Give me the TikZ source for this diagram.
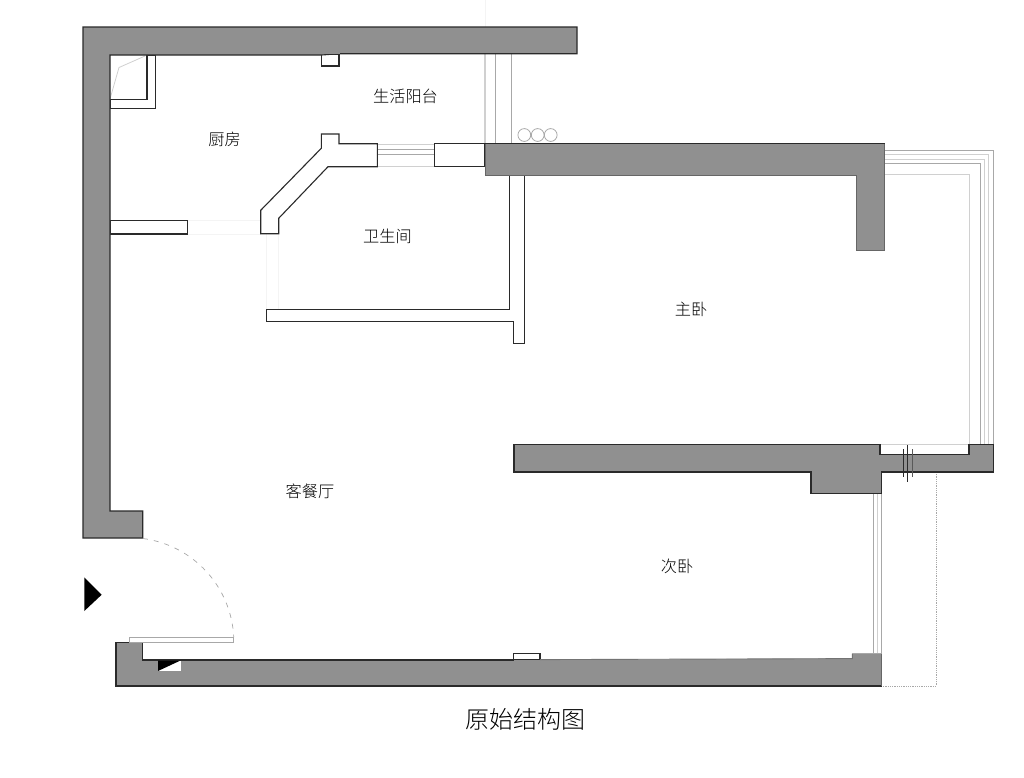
\documentclass[tikz,border=0pt]{standalone}
\usepackage{fontspec}
\newfontfamily\cjk{Noto Sans CJK SC}[UprightFont=* Light]
\definecolor{wallgray}{HTML}{909090}
\definecolor{lineA}{HTML}{D0D0D0}
\definecolor{lineB}{HTML}{A8A8A8}
\definecolor{lineC}{HTML}{F4F4F4}
\definecolor{inkline}{HTML}{2A2A2A}
\tikzset{
  wall/.style={fill=wallgray,draw=inkline,line width=1.1pt,line join=miter},
  partition/.style={fill=white,draw=inkline,line width=1.1pt,line join=miter},
  fineA/.style={draw=lineA,line width=.8pt},
  fineB/.style={draw=lineB,line width=.8pt},
  faint/.style={draw=lineC,line width=.7pt},
  roomlabel/.style={font=\cjk\fontsize{16.2}{17}\selectfont,text=black,inner sep=0pt},
  titlelabel/.style={font=\cjk\fontsize{24}{26}\selectfont,text=black,inner sep=0pt}
}
\begin{document}
\begin{tikzpicture}[x=1pt,y=-1pt]
\useasboundingbox (0,0) rectangle (1024,777);
% fine window lines (below walls)
\draw[draw=lineC,line width=1pt] (485,0) -- (485,27);
\draw[fineA,line width=1.2pt] (485,54) -- (485,144);
\draw[fineB] (495,54) -- (495,144);
\draw[fineB] (511.3,54) -- (511.3,144);
\foreach \cx in {524.3,537.7,550.7} \draw[fineB] (\cx,135) circle (6.4);
% right bay
\draw[fineB] (885,150.7) -- (993,150.7) -- (993,444);
\draw[fineA] (885,154.7) -- (988.5,154.7) -- (988.5,444);
\draw[fineA] (885,159.3) -- (984.5,159.3) -- (984.5,444);
\draw[fineB] (885,163.3) -- (980,163.3) -- (980,444);
\draw[fineA] (885,174.3) -- (969,174.3) -- (969,444);
\draw[fineA] (880,444.3) -- (969,444.3);
% lower right window
\draw[fineB] (873.7,494) -- (873.7,654);
\draw[fineA] (877.3,494) -- (877.3,654);
\draw[fineB] (881.5,494) -- (881.5,654);
% dotted
\draw[lineB,line width=.8pt,densely dotted] (936,472) -- (936,686) -- (882,686);
% faint openings
\draw[faint] (187.7,220.3) -- (260.7,220.3) (187.7,234) -- (260.7,234);
\draw[faint] (266.3,234) -- (266.3,309.7) (278.7,234) -- (278.7,309.7);
% kitchen-bath window
\draw[fineA] (377.3,144) -- (434.3,144) (377.3,166.7) -- (434.3,166.7);
\draw[fineB] (377.3,149.7) -- (434.3,149.7) (377.3,154) -- (434.3,154);
% partitions
\draw[partition] (147,55) -- (155.7,55) -- (155.7,108.7) -- (110,108.7) -- (110,99.7) -- (147,99.7) -- cycle;
\draw[fineA] (110,99) -- (119,67.5) -- (145,56);
\draw[partition] (110,220.3) -- (187.7,220.3) -- (187.7,234) -- (110,234) -- cycle;
\draw[partition] (321.3,134) -- (339,134) -- (339,143.7) -- (377.3,143.7) -- (377.3,166.7) -- (328,166.7) -- (278.7,218.3) -- (278.7,233.7) -- (260.7,233.7) -- (260.7,210.3) -- (321.3,148.3) -- cycle;
\draw[partition] (434.3,143.7) -- (485,143.7) -- (485,166.7) -- (434.3,166.7) -- cycle;
\draw[partition] (509.3,175.7) -- (524.7,175.7) -- (524.7,343.7) -- (513.7,343.7) -- (513.7,321.7) -- (266.3,321.7) -- (266.3,309.7) -- (509.3,309.7) -- cycle;
% small projections on the walls
\draw[partition] (321.7,54) rectangle (339,66);
\draw[partition] (513.5,653.5) rectangle (540,660);
% walls
\draw[wall] (83,27) -- (577,27) -- (577,53.7) -- (339,53.7) -- (321.7,55) -- (110,55) -- (110,511) -- (142.7,511) -- (142.7,538) -- (83,538) -- cycle;
\fill[wallgray] (321.2,50) rectangle (339.5,53.7);
\fill[wallgray] (485,143.7) -- (884.7,143.7) -- (884.7,250.3) -- (856,250.3) -- (856,175.5) -- (485,175.5) -- cycle;
\draw[inkline,line width=1.1pt] (485,143.7) -- (884.7,143.7);
\draw[black!60,line width=.9pt] (884.7,143.7) -- (884.7,250.3) -- (856,250.3) -- (856,175.5) -- (485,175.5) -- (485,143.7);
\draw[wall] (514,444.3) -- (880,444.3) -- (880,454.3) -- (969,454.3) -- (969,444.3) -- (993.3,444.3) -- (993.3,472) -- (881.3,472) -- (881.3,493.7) -- (811,493.7) -- (811,472) -- (514,472) -- cycle;
\fill[wallgray] (116,642.3) -- (142.7,642.3) -- (142.7,660) -- (540,660) -- (852.3,658.3) -- (852.3,653.7) -- (881.7,653.7) -- (881.7,686) -- (116,686) -- cycle;
\draw[inkline,line width=1.1pt] (513.5,660) -- (142.7,660) -- (142.7,642.3) -- (116,642.3) -- (116,686) -- (881.7,686);
\draw[black!55,line width=.9pt] (540,659.6) -- (852.3,658.6) -- (852.3,653.7);
\draw[lineB,line width=.9pt] (852.3,653.7) -- (881.7,653.7);
\draw[black!60,line width=1pt] (881.7,653.7) -- (881.7,686);
% break marks
\draw[inkline,line width=1pt] (903.3,449) -- (903.3,477) (907.3,445) -- (907.3,481.7);
\draw[black!65,line width=1pt] (912,449) -- (912,477);
% entrance door
\draw[fineB,fill=white] (129.3,637.3) rectangle (233.7,642.3);
\draw[lineB,line width=.7pt,dash pattern=on 5pt off 6pt] (143,538.5) arc[start angle=-82.5,end angle=-2.7,radius=104.5];
% entrance mark
\fill[black] (84.3,577.3) -- (101.7,594.7) -- (84.3,611) -- cycle;
% meter box
\fill[white] (158,660.5) rectangle (180.7,671);
\fill[black] (158,660.5) -- (180.5,660.5) -- (158,671) -- cycle;
% labels
\node[roomlabel] (kitchen) at (224.5,139) {厨房};
\node[roomlabel] (balcony) at (405.5,96) {生活阳台};
\node[roomlabel] (bath) at (387.5,236.5) {卫生间};
\node[roomlabel] (master) at (691,309.5) {主卧};
\node[roomlabel] (living) at (310,491.5) {客餐厅};
\node[roomlabel] (second) at (677,566.5) {次卧};
\node[titlelabel] (title) at (525,719) {原始结构图};
\end{tikzpicture}
\end{document}
